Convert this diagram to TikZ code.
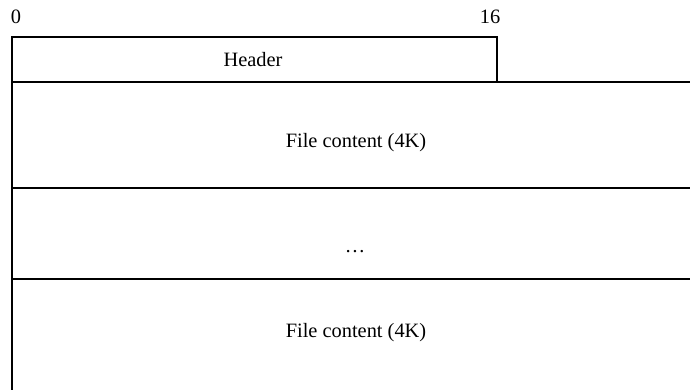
\documentclass[tikz,border=0pt]{standalone}
\usepackage{fontspec}
\setmainfont{Liberation Serif}
\begin{document}
\begin{tikzpicture}[x=0.025cm,y=-0.025cm]
		\useasboundingbox (0,0) rectangle (690,389);
		\clip (0,0) rectangle (690,389);
		\node [anchor=base] (start) at (16,23) {\fontsize{14.5}{16}\selectfont 0};
		\node [anchor=base] (end) at (490,23) {\fontsize{14.5}{16}\selectfont 16};
		\draw [line width=1.3pt] (12,37) rectangle (497,82);
		\node [anchor=base] (header) at (253,66) {\fontsize{14.5}{16}\selectfont Header};
		\draw [line width=1.3pt] (12,82) rectangle (720,188);
		\node [anchor=base] (first) at (356,147) {\fontsize{14.5}{16}\selectfont File content (4K)};
		\draw [line width=1.3pt] (12,188) rectangle (720,279);
		\node [anchor=base] (more) at (355,252) {\fontsize{14.5}{16}\selectfont …};
		\draw [line width=1.3pt] (12,279) rectangle (720,420);
		\node [anchor=base] (last) at (356,337) {\fontsize{14.5}{16}\selectfont File content (4K)};
		\end{tikzpicture}
\end{document}
